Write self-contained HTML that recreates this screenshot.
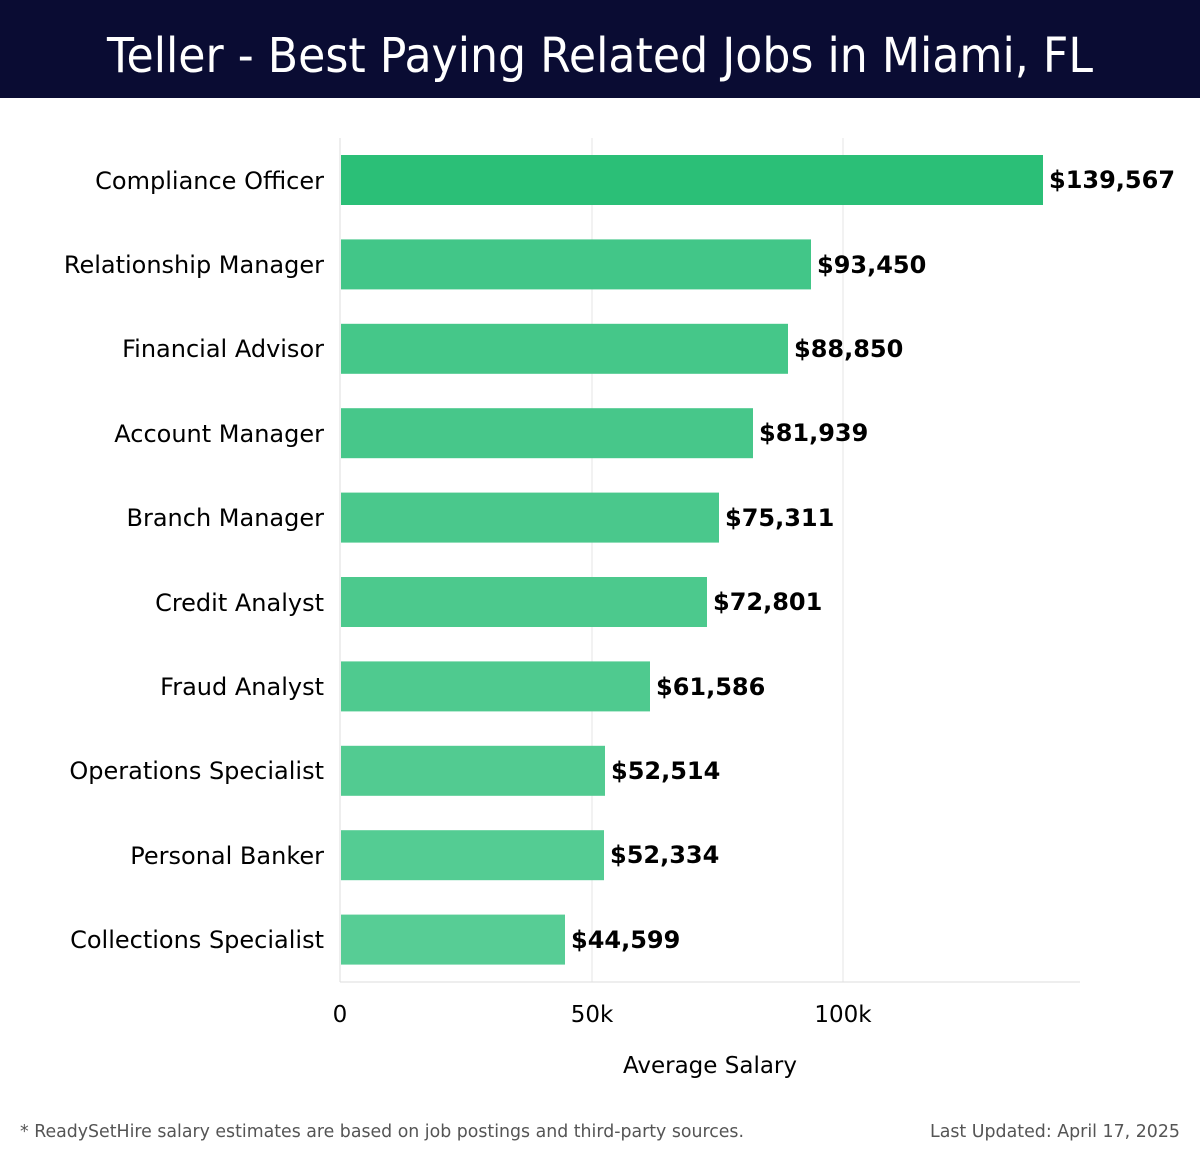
<!DOCTYPE html>
<html><head><meta charset="utf-8"><style>
body{margin:0;width:1200px;height:1158px;background:#fff;overflow:hidden;font-family:"Liberation Sans","DejaVu Sans",sans-serif}
</style></head><body>
<svg width="1200" height="1158" xmlns="http://www.w3.org/2000/svg" font-family="'DejaVu Sans','Liberation Sans',sans-serif">
<rect x="0" y="0" width="1200" height="98" fill="#0a0c33"/>
<text x="600" y="72" text-anchor="middle" fill="#fff" font-size="48" font-family="'DejaVu Sans','Liberation Sans',sans-serif" textLength="986" lengthAdjust="spacingAndGlyphs">Teller - Best Paying Related Jobs in Miami, FL</text>
<line x1="340" y1="138" x2="340" y2="982" stroke="#ddd"/>
<line x1="592" y1="138" x2="592" y2="982" stroke="#e5e5e5"/>
<line x1="843" y1="138" x2="843" y2="982" stroke="#e5e5e5"/>
<line x1="340" y1="982" x2="1080" y2="982" stroke="#ddd"/>
<g font-size="24" fill="#000" text-anchor="end">
<text x="324" y="189">Compliance Officer</text>
<text x="324" y="273">Relationship Manager</text>
<text x="324" y="357">Financial Advisor</text>
<text x="324" y="442">Account Manager</text>
<text x="324" y="526">Branch Manager</text>
<text x="324" y="611">Credit Analyst</text>
<text x="324" y="695">Fraud Analyst</text>
<text x="324" y="779">Operations Specialist</text>
<text x="324" y="864">Personal Banker</text>
<text x="324" y="948">Collections Specialist</text>
</g>
<rect x="341" y="155" width="702" height="50" fill="#2bbf77"/>
<rect x="341" y="239.4" width="470" height="50" fill="#42c688"/>
<rect x="341" y="323.8" width="447" height="50" fill="#45c789"/>
<rect x="341" y="408.2" width="412" height="50" fill="#47c78a"/>
<rect x="341" y="492.6" width="378" height="50" fill="#4ac88c"/>
<rect x="341" y="577" width="366" height="50" fill="#4cc98d"/>
<rect x="341" y="661.4" width="309" height="50" fill="#4fca8f"/>
<rect x="341" y="745.8" width="264" height="50" fill="#52cb91"/>
<rect x="341" y="830.2" width="263" height="50" fill="#54cc93"/>
<rect x="341" y="914.6" width="224" height="50" fill="#57cd95"/>
<g font-size="24" font-weight="bold" fill="#000">
<text x="1049" y="188">$139,567</text>
<text x="817" y="273">$93,450</text>
<text x="794" y="357">$88,850</text>
<text x="759" y="441">$81,939</text>
<text x="725" y="526">$75,311</text>
<text x="713" y="610">$72,801</text>
<text x="656" y="695">$61,586</text>
<text x="611" y="779">$52,514</text>
<text x="610" y="863">$52,334</text>
<text x="571" y="948">$44,599</text>
</g>
<g font-size="23" fill="#000" text-anchor="middle">
<text x="340" y="1022">0</text>
<text x="592" y="1022">50k</text>
<text x="843" y="1022">100k</text>
<text x="710" y="1073">Average Salary</text>
</g>
<text x="20" y="1137" font-size="18" fill="#555" textLength="724" lengthAdjust="spacingAndGlyphs">* ReadySetHire salary estimates are based on job postings and third-party sources.</text>
<text x="930" y="1137" font-size="18" fill="#555" textLength="250" lengthAdjust="spacingAndGlyphs">Last Updated: April 17, 2025</text>
</svg>
</body></html>
